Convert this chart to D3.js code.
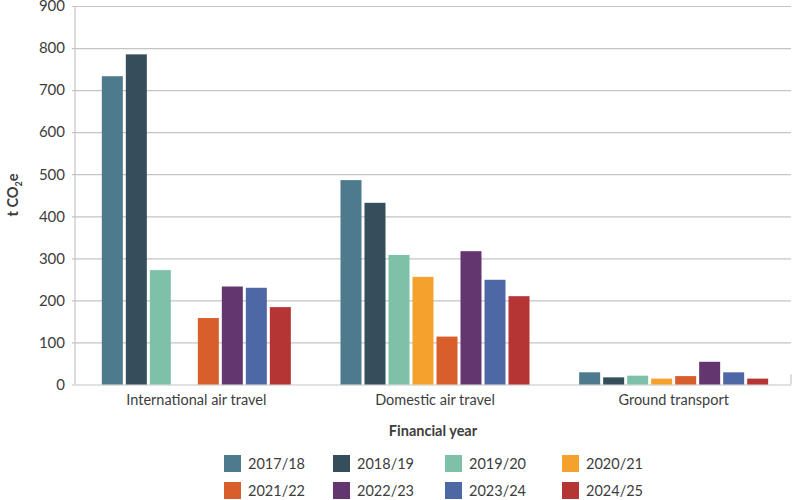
<!DOCTYPE html>
<html>
<head>
<meta charset="utf-8">
<script src="https://cdn.jsdelivr.net/npm/d3@7"></script>
<style>
  body { margin: 0; background: #fff; }
  text { font-family: Lato, "Open Sans", sans-serif; fill: #3d3d3d; }
</style>
</head>
<body>
<div id="chart"></div>
<script>
// data
const CATEGORIES = ["International air travel", "Domestic air travel", "Ground transport"];
const YEARS = ["2017/18", "2018/19", "2019/20", "2020/21", "2021/22", "2022/23", "2023/24", "2024/25"];
const COLORS = ["#4e7a8e", "#354e5c", "#7dc2a8", "#f4a22d", "#d85f2c", "#643670", "#4e68a6", "#b53535"];
const INTERNATIONAL = [733, 785, 272, null, 158, 233, 230, 184];
const DOMESTIC = [486, 432, 308, 256, 114, 317, 249, 210];
const GROUND = [29, 17, 21, 14, 20, 54, 29, 14];
const Y_TICKS = [0, 100, 200, 300, 400, 500, 600, 700, 800, 900];

const FRAME_WIDTH = 795;
const FRAME_HEIGHT = 500;
const PLOT = {left: 75, right: 791, top: 6, bottom: 384.5};

const SERIES = [INTERNATIONAL, DOMESTIC, GROUND];

const svg = d3.select("#chart")
              .append("svg")
                .attr("width", FRAME_WIDTH)
                .attr("height", FRAME_HEIGHT);

const X_SCALE = d3.scaleBand()
                  .domain(CATEGORIES)
                  .range([PLOT.left + 2, PLOT.right + 2]);

const GROUP_W = 192;
const X_INNER = d3.scaleBand()
                  .domain(YEARS)
                  .range([(X_SCALE.bandwidth() - GROUP_W) / 2, (X_SCALE.bandwidth() + GROUP_W) / 2])
                  .paddingInner(0.125)
                  .paddingOuter(0.0625);

const Y_SCALE = d3.scaleLinear()
                  .domain([0, 900])
                  .range([PLOT.bottom, PLOT.top]);

// gridlines + y axis labels
const yAxis = svg.append("g")
   .attr("transform", "translate(" + PLOT.left + ",0)")
   .call(d3.axisLeft(Y_SCALE).tickValues(Y_TICKS)
           .tickSize(-(PLOT.right - PLOT.left)).tickPadding(10));
yAxis.select(".domain").remove();
yAxis.selectAll(".tick line")
     .attr("x1", -3)
     .attr("stroke", "#c4c4c4")
     .attr("stroke-width", 1.2);
yAxis.selectAll(".tick text")
     .attr("font-size", 15)
     .attr("font-family", "Lato, sans-serif")
     .attr("fill", "#404040");

// vertical axis line
svg.append("line")
   .attr("x1", PLOT.left).attr("x2", PLOT.left)
   .attr("y1", PLOT.top).attr("y2", PLOT.bottom)
   .attr("stroke", "#c4c4c4").attr("stroke-width", 1.2);
svg.append("line")
   .attr("x1", PLOT.right).attr("x2", PLOT.right)
   .attr("y1", PLOT.bottom - 10).attr("y2", PLOT.bottom)
   .attr("stroke", "#c4c4c4").attr("stroke-width", 1.2);

// bars
const groups = svg.selectAll(".group")
   .data(CATEGORIES)
   .enter()
   .append("g")
     .attr("class", "group")
     .attr("transform", (d) => "translate(" + X_SCALE(d) + ",0)");

groups.selectAll("rect")
   .data((d, i) => YEARS.map((y, j) => ({year: y, value: SERIES[i][j], color: COLORS[j]}))
                        .filter((e) => e.value != null))
   .enter()
   .append("rect")
     .attr("x", (d) => X_INNER(d.year))
     .attr("y", (d) => Y_SCALE(d.value))
     .attr("width", X_INNER.bandwidth())
     .attr("height", (d) => Y_SCALE(0) - Y_SCALE(d.value))
     .attr("fill", (d) => d.color);

// category labels
svg.selectAll(".cat")
   .data(CATEGORIES)
   .enter()
   .append("text")
     .attr("x", (d) => X_SCALE(d) + X_SCALE.bandwidth() / 2)
     .attr("y", 405)
     .attr("text-anchor", "middle")
     .attr("font-size", 14.5)
     .text((d) => d);

// axis titles
svg.append("text")
   .attr("x", 433).attr("y", 436)
   .attr("text-anchor", "middle")
   .attr("font-size", 14.5).attr("font-weight", "bold")
   .attr("fill", "#2d2d2d")
   .text("Financial year");

const yt = svg.append("text")
   .attr("transform", "translate(18,195) rotate(-90)")
   .attr("text-anchor", "middle")
   .attr("font-size", 14.5).attr("font-weight", "bold")
   .attr("fill", "#2d2d2d");
yt.append("tspan").text("t CO");
yt.append("tspan").attr("font-size", 9).attr("dy", 4).text("2");
yt.append("tspan").attr("dy", -4).text("e");

// legend
const LEG_X = [224, 333, 445, 562];
const legend = svg.selectAll(".leg")
   .data(YEARS)
   .enter()
   .append("g")
     .attr("transform", (d, i) => "translate(" + LEG_X[i % 4] + "," + (455 + Math.floor(i / 4) * 27) + ")");
legend.append("rect")
   .attr("width", 17).attr("height", 17)
   .attr("fill", (d, i) => COLORS[i]);
legend.append("text")
   .attr("x", 24).attr("y", 14)
   .attr("font-size", 14.5)
   .text((d) => d);
</script>
</body>
</html>
